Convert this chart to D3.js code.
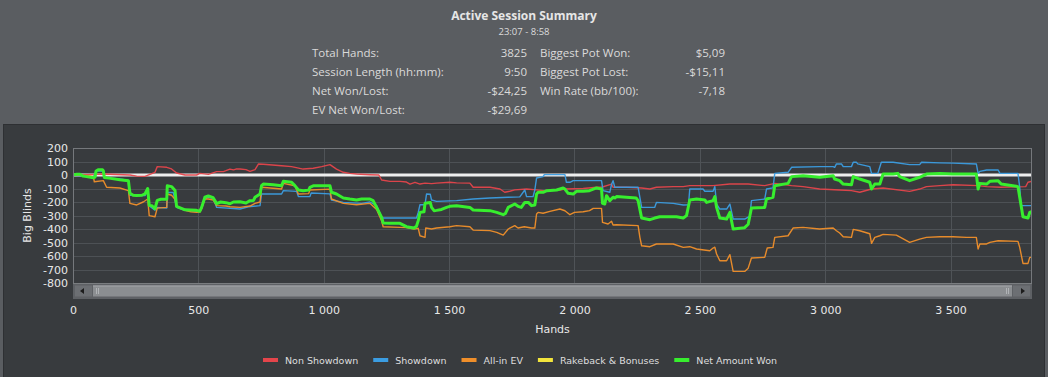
<!DOCTYPE html>
<html><head><meta charset="utf-8">
<script src="https://cdn.jsdelivr.net/npm/d3@7"></script>
<style>
html,body{margin:0;padding:0;background:#5a5d61;}
svg{display:block;}
</style></head><body>
<svg id="c" width="1048" height="377"></svg>
<script>
// ---------- data ----------
const title = "Active Session Summary";
const subtitle = "23:07 - 8:58";
const statLabelsLeft = ["Total Hands:", "Session Length (hh:mm):", "Net Won/Lost:", "EV Net Won/Lost:"];
const statValuesLeft = ["3825", "9:50", "-$24,25", "-$29,69"];
const statLabelsRight = ["Biggest Pot Won:", "Biggest Pot Lost:", "Win Rate (bb/100):"];
const statValuesRight = ["$5,09", "-$15,11", "-7,18"];
const yTicks = [200, 100, 0, -100, -200, -300, -400, -500, -600, -700, -800];
const xTicks = [0, 500, 1000, 1500, 2000, 2500, 3000, 3500];
const totalHands = 3825;
const seriesNames = ["Non Showdown", "Showdown", "All-in EV", "Rakeback & Bonuses", "Net Amount Won"];

// [hand, big blinds]
const nonShowdown = [[0,0],[92,5],[121,7],[227,0],[254,-8],[287,-10],[327,20],[336,62],[374,57],[393,45],[413,15],[447,0],[493,0],[506,12],[540,5],[573,25],[600,25],[610,32],[626,44],[640,38],[650,44],[666,44],[690,40],[706,27],[726,40],[740,82],[759,80],[832,69],[872,62],[918,44],[958,50],[992,62],[1025,77],[1051,44],[1078,20],[1104,12],[1131,7],[1184,2],[1220,0],[1231,-37],[1264,-47],[1304,-47],[1330,-52],[1344,-67],[1364,-54],[1384,-67],[1404,-60],[1430,-64],[1450,-60],[1503,-54],[1530,-58],[1583,-60],[1596,-91],[1663,-91],[1703,-104],[1722,-128],[1742,-120],[1762,-110],[1809,-104],[1849,-110],[1875,-116],[1942,-111],[1962,-104],[2035,-100],[2088,-91],[2108,-91],[2148,-67],[2154,-91],[2208,-91],[2268,-96],[2301,-104],[2327,-91],[2394,-86],[2434,-86],[2460,-79],[2513,-79],[2553,-79],[2620,-67],[2693,-67],[2759,-79],[2799,-62],[2866,-79],[2912,-86],[2978,-104],[3058,-111],[3105,-116],[3138,-128],[3185,-104],[3231,-96],[3337,-121],[3377,-104],[3404,-86],[3457,-79],[3510,-72],[3610,-79],[3644,-86],[3700,-91],[3800,-86],[3809,-54],[3825,-47]];

const showdown = [[0,0],[20,-5],[60,-10],[81,-15],[92,30],[121,30],[125,-20],[187,-30],[221,-40],[227,-150],[287,-153],[298,-110],[304,-230],[327,-260],[336,-240],[374,-245],[376,-130],[400,-130],[413,-240],[447,-262],[506,-270],[526,-175],[540,-165],[560,-175],[573,-240],[666,-252],[700,-235],[746,-227],[752,-141],[832,-141],[839,-116],[892,-121],[899,-160],[945,-160],[950,-133],[1025,-140],[1031,-185],[1078,-203],[1151,-210],[1184,-200],[1211,-227],[1231,-314],[1237,-319],[1370,-319],[1377,-277],[1384,-220],[1404,-220],[1410,-141],[1425,-143],[1430,-185],[1450,-195],[1530,-190],[1596,-178],[1663,-170],[1736,-165],[1782,-162],[1802,-111],[1809,-160],[1835,-160],[1842,-111],[1849,-22],[1875,-12],[1880,3],[1962,3],[1968,-54],[1982,-54],[1995,-42],[2108,-42],[2114,-116],[2141,-128],[2148,-70],[2154,-42],[2161,-91],[2254,-91],[2268,-240],[2320,-240],[2327,-203],[2394,-210],[2434,-222],[2455,-220],[2460,-104],[2513,-104],[2520,-120],[2553,-120],[2560,-86],[2567,-215],[2580,-252],[2607,-252],[2620,-215],[2633,-326],[2679,-326],[2700,-305],[2706,-190],[2759,-178],[2766,-104],[2792,-95],[2799,12],[2852,20],[2866,57],[2978,62],[3032,62],[3038,57],[3045,82],[3065,82],[3072,62],[3105,62],[3112,94],[3125,94],[3130,82],[3178,62],[3185,12],[3210,12],[3224,94],[3271,94],[3337,77],[3377,77],[3384,94],[3457,90],[3510,88],[3603,82],[3610,12],[3617,27],[3644,37],[3690,37],[3697,12],[3769,12],[3776,-91],[3782,-227],[3825,-227]];

const allInEV = [[0,0],[60,-5],[81,-10],[85,-50],[121,-42],[134,-91],[187,-96],[221,-116],[227,-210],[254,-222],[280,-200],[298,-178],[304,-301],[327,-309],[336,-245],[374,-240],[376,-141],[393,-150],[407,-180],[413,-235],[447,-262],[470,-272],[493,-277],[506,-275],[513,-250],[526,-178],[540,-178],[559,-185],[573,-227],[610,-230],[626,-235],[666,-240],[706,-230],[726,-210],[746,-200],[752,-91],[832,-104],[839,-62],[885,-80],[899,-141],[940,-138],[945,-111],[1025,-105],[1031,-178],[1078,-210],[1131,-220],[1184,-210],[1211,-255],[1231,-340],[1237,-383],[1304,-388],[1330,-390],[1360,-400],[1377,-395],[1384,-450],[1404,-462],[1407,-393],[1430,-400],[1450,-393],[1503,-383],[1530,-375],[1583,-383],[1596,-408],[1663,-412],[1690,-425],[1716,-445],[1736,-400],[1762,-375],[1775,-393],[1800,-383],[1829,-393],[1842,-393],[1849,-289],[1855,-277],[1875,-283],[1902,-269],[1942,-252],[1962,-265],[1982,-294],[2000,-277],[2035,-272],[2060,-264],[2075,-247],[2108,-247],[2112,-351],[2134,-363],[2148,-343],[2154,-370],[2168,-368],[2254,-375],[2261,-462],[2268,-524],[2301,-531],[2327,-511],[2394,-511],[2434,-536],[2460,-531],[2487,-548],[2540,-561],[2553,-541],[2560,-535],[2567,-585],[2580,-635],[2607,-635],[2620,-590],[2633,-714],[2679,-714],[2693,-690],[2706,-615],[2759,-610],[2769,-541],[2792,-536],[2799,-462],[2852,-450],[2872,-393],[2912,-388],[2978,-400],[3032,-393],[3045,-413],[3058,-430],[3072,-457],[3105,-462],[3112,-403],[3138,-413],[3178,-435],[3185,-506],[3198,-462],[3218,-450],[3231,-440],[3284,-445],[3337,-499],[3377,-475],[3404,-462],[3457,-457],[3510,-457],[3563,-462],[3603,-462],[3610,-548],[3617,-511],[3644,-511],[3657,-499],[3690,-487],[3769,-492],[3776,-536],[3789,-655],[3809,-655],[3816,-610],[3825,-610]];

const rakeback = [[0,0],[3825,0]];

const netWon = [[0,0],[15,5],[28,5],[40,-8],[54,-12],[81,-20],[88,-15],[92,30],[100,38],[118,38],[121,30],[125,-18],[150,-25],[187,-35],[221,-42],[227,-135],[240,-150],[254,-152],[275,-150],[287,-140],[298,-100],[304,-225],[315,-228],[327,-250],[336,-188],[350,-180],[374,-180],[376,-80],[393,-86],[407,-115],[413,-232],[430,-245],[447,-258],[470,-260],[493,-262],[506,-268],[513,-240],[526,-165],[540,-155],[559,-168],[573,-212],[589,-200],[610,-205],[626,-213],[640,-200],[666,-198],[690,-207],[706,-190],[720,-188],[726,-165],[746,-141],[752,-79],[759,-67],[799,-72],[832,-79],[839,-47],[872,-54],[885,-79],[899,-111],[918,-116],[940,-112],[945,-91],[958,-80],[1025,-80],[1031,-128],[1051,-141],[1078,-170],[1104,-178],[1131,-185],[1151,-178],[1184,-178],[1197,-190],[1211,-240],[1231,-314],[1237,-355],[1264,-357],[1304,-358],[1330,-383],[1360,-393],[1370,-380],[1377,-338],[1384,-277],[1400,-272],[1404,-210],[1425,-203],[1430,-240],[1440,-264],[1450,-262],[1470,-255],[1490,-240],[1503,-232],[1530,-227],[1583,-240],[1596,-259],[1663,-264],[1690,-277],[1716,-294],[1725,-285],[1736,-240],[1762,-215],[1775,-232],[1788,-240],[1802,-203],[1816,-203],[1829,-227],[1842,-222],[1849,-141],[1855,-128],[1875,-128],[1890,-116],[1929,-111],[1955,-96],[1962,-104],[1975,-136],[1995,-141],[2008,-121],[2035,-121],[2060,-116],[2088,-96],[2108,-104],[2112,-210],[2121,-215],[2128,-153],[2141,-190],[2154,-165],[2161,-170],[2168,-160],[2246,-170],[2254,-190],[2268,-319],[2301,-331],[2320,-319],[2340,-309],[2407,-309],[2434,-319],[2447,-301],[2460,-185],[2487,-178],[2520,-185],[2527,-203],[2553,-190],[2560,-160],[2567,-240],[2580,-319],[2607,-326],[2620,-277],[2633,-400],[2679,-390],[2693,-365],[2706,-245],[2759,-240],[2766,-178],[2792,-165],[2799,-79],[2852,-62],[2866,-12],[2912,-5],[2978,-17],[3032,-5],[3038,-30],[3058,-42],[3072,-67],[3105,-72],[3112,-12],[3138,-30],[3178,-54],[3185,-104],[3198,-67],[3218,-67],[3231,7],[3271,7],[3290,12],[3297,-12],[3337,-42],[3377,-17],[3404,7],[3457,12],[3510,7],[3563,7],[3603,7],[3610,-104],[3617,-62],[3644,-67],[3657,-47],[3690,-42],[3702,-67],[3769,-86],[3776,-165],[3789,-309],[3809,-319],[3816,-277],[3825,-270]];

const seriesData = [nonShowdown, showdown, allInEV, rakeback, netWon];
const seriesColors = ["#e4454b", "#3b9de2", "#f08f2a", "#f2e43c", "#37ee2e"];
const seriesWidths = [1.4, 1.4, 1.4, 1.4, 3];

// ---------- layout ----------
const svg = d3.select("#c");
const W = 1048, H = 377;
const plot = {l: 73, r: 1032, t: 148, b: 283};
const fontMain = "'DejaVu Sans', sans-serif";
const fontHead = "'Open Sans', 'Noto Sans', sans-serif";

svg.append("rect").attr("width", W).attr("height", H).attr("fill", "#5a5d61");
svg.append("rect").attr("x", 3.5).attr("y", 124.5).attr("width", 1041).attr("height", 260)
  .attr("fill", "#383b3e").attr("stroke", "#2e3033");

// header
svg.append("text").attr("x", 524).attr("y", 20).attr("text-anchor", "middle")
  .attr("font-family", fontHead).attr("font-weight", "bold").attr("font-size", 12)
  .attr("fill", "#e6e6e6").text(title);
svg.append("text").attr("x", 524).attr("y", 35).attr("text-anchor", "middle")
  .attr("font-family", fontHead).attr("font-size", 9.5)
  .attr("fill", "#dcdcdc").text(subtitle);
const rowY = [57, 76, 95, 114];
const stat = svg.append("g").attr("font-family", fontHead).attr("font-size", 11.5).attr("fill", "#dadada");
statLabelsLeft.forEach((t, i) => stat.append("text").attr("x", 312).attr("y", rowY[i]).text(t));
statValuesLeft.forEach((t, i) => stat.append("text").attr("x", 527).attr("y", rowY[i]).attr("text-anchor", "end").text(t));
statLabelsRight.forEach((t, i) => stat.append("text").attr("x", 540).attr("y", rowY[i]).text(t));
statValuesRight.forEach((t, i) => stat.append("text").attr("x", 725).attr("y", rowY[i]).attr("text-anchor", "end").text(t));

// scales
const x = d3.scaleLinear().domain([0, totalHands]).range([plot.l, plot.r]);
const y = d3.scaleLinear().domain([-800, 200]).range([plot.b, plot.t]);
const fmt = d3.formatLocale({decimal: ",", thousands: " ", grouping: [3], currency: ["$", ""]}).format(",");

// grid
const grid = svg.append("g");
grid.selectAll("line.h").data(yTicks).join("line")
  .attr("x1", plot.l).attr("x2", plot.r).attr("y1", d => Math.round(y(d)) + 0.5).attr("y2", d => Math.round(y(d)) + 0.5)
  .attr("stroke", "#4d5155").attr("stroke-width", 1);
grid.selectAll("line.v").data(xTicks.filter(d => d > 0)).join("line")
  .attr("y1", plot.t).attr("y2", plot.b).attr("x1", d => Math.round(x(d)) + 0.5).attr("x2", d => Math.round(x(d)) + 0.5)
  .attr("stroke", "#4f5357").attr("stroke-width", 1);
svg.append("rect").attr("x", plot.l + 0.5).attr("y", plot.t + 0.5).attr("width", plot.r - plot.l - 1).attr("height", plot.b - plot.t)
  .attr("fill", "none").attr("stroke", "#75787c");

// zero line
svg.append("line").attr("x1", plot.l + 1).attr("x2", plot.r - 1).attr("y1", y(0)).attr("y2", y(0))
  .attr("stroke", "#eeeeee").attr("stroke-width", 3);

// series
svg.append("clipPath").attr("id", "clip").append("rect")
  .attr("x", plot.l + 1).attr("y", plot.t + 1).attr("width", plot.r - plot.l - 2).attr("height", plot.b - plot.t - 1);
const line = d3.line().x(d => x(d[0])).y(d => y(d[1]));
const sg = svg.append("g").attr("clip-path", "url(#clip)");
seriesData.forEach((data, i) => {
  if (i === 3) return; // rakeback stays at 0, hidden beneath zero line
  sg.append("path").datum(data).attr("d", line).attr("fill", "none")
    .attr("stroke", seriesColors[i]).attr("stroke-width", seriesWidths[i])
    .attr("stroke-linejoin", "round").attr("opacity", i === 4 ? 1 : 0.95);
});

// y axis
const yAxis = svg.append("g").attr("transform", `translate(${plot.l},0)`)
  .call(d3.axisLeft(y).tickValues(yTicks).tickSize(0).tickPadding(5).tickFormat(d => d));
yAxis.select(".domain").remove();
yAxis.selectAll("text").attr("font-family", fontMain).attr("font-size", 11).attr("fill", "#e8e8e8");
svg.append("text").attr("transform", `translate(31,${(plot.t + plot.b) / 2}) rotate(-90)`)
  .attr("text-anchor", "middle").attr("font-family", fontMain).attr("font-size", 11).attr("fill", "#e8e8e8")
  .text("Big Blinds");

// scrollbar
const sb = svg.append("g");
sb.append("rect").attr("x", plot.l).attr("y", 283).attr("width", plot.r - plot.l).attr("height", 16).attr("fill", "#5e6165");
sb.append("rect").attr("x", plot.l).attr("y", 283).attr("width", plot.r - plot.l).attr("height", 1).attr("fill", "#7a7d80");
sb.append("rect").attr("x", plot.l + 2).attr("y", 285.5).attr("width", 17).attr("height", 11).attr("fill", "#6c6f73");
sb.append("path").attr("d", `M${plot.l + 7},291 L${plot.l + 11},288 L${plot.l + 11},294 Z`).attr("fill", "#1c1c1c");
sb.append("rect").attr("x", plot.r - 19).attr("y", 285.5).attr("width", 17).attr("height", 11).attr("fill", "#6c6f73");
sb.append("path").attr("d", `M${plot.r - 7},291 L${plot.r - 11},288 L${plot.r - 11},294 Z`).attr("fill", "#1c1c1c");
sb.append("rect").attr("x", plot.l + 20).attr("y", 285.5).attr("width", plot.r - plot.l - 40).attr("height", 11).attr("fill", "#8b8e91");
sb.append("rect").attr("x", plot.l + 20).attr("y", 285.5).attr("width", plot.r - plot.l - 40).attr("height", 1).attr("fill", "#a3a6a9");
[plot.l + 23, plot.l + 25, plot.r - 26, plot.r - 24].forEach(px =>
  sb.append("rect").attr("x", px).attr("y", 288).attr("width", 1).attr("height", 6).attr("fill", "#b0b3b6"));

// x axis
const xAxis = svg.append("g").attr("transform", `translate(0,299)`)
  .call(d3.axisBottom(x).tickValues(xTicks).tickSize(0).tickPadding(7).tickFormat(fmt));
xAxis.select(".domain").remove();
xAxis.selectAll("text").attr("font-family", fontMain).attr("font-size", 11).attr("fill", "#e8e8e8");
svg.append("text").attr("x", (plot.l + plot.r) / 2).attr("y", 333).attr("text-anchor", "middle")
  .attr("font-family", fontMain).attr("font-size", 11).attr("fill", "#e8e8e8").text("Hands");

// legend
const lg = svg.append("g").attr("font-family", fontMain).attr("font-size", 9.5).attr("fill", "#dedede");
let lx = 263;
seriesNames.forEach((name, i) => {
  lg.append("rect").attr("x", lx).attr("y", 358).attr("width", 15).attr("height", 4).attr("fill", seriesColors[i]);
  const t = lg.append("text").attr("x", lx + 22).attr("y", 363.5).text(name);
  lx += 22 + t.node().getComputedTextLength() + 15;
});
</script>
</body></html>
